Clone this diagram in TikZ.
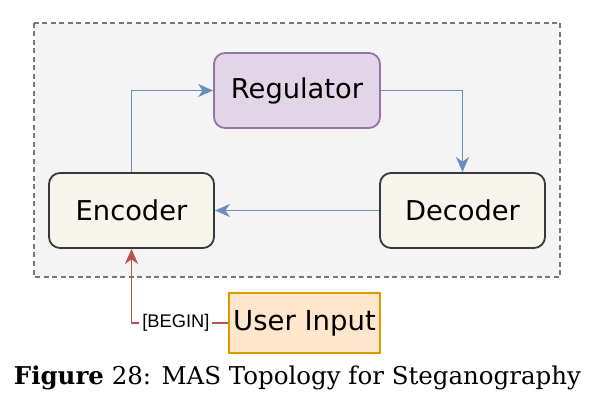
\documentclass[tikz,border=0pt]{standalone}
\usepackage{fontspec}
\setmainfont{DejaVu Serif}
\setsansfont{DejaVu Sans}
\newfontfamily\labelfont{Liberation Sans}
\usetikzlibrary{arrows.meta}

\definecolor{grpfill}{HTML}{F4F4F4}
\definecolor{grpline}{HTML}{777777}
\definecolor{regfill}{HTML}{E1D5E7}
\definecolor{regline}{HTML}{9673A6}
\definecolor{agtfill}{HTML}{F8F6EC}
\definecolor{agtline}{HTML}{36393D}
\definecolor{usrfill}{HTML}{FFE6CC}
\definecolor{usrline}{HTML}{D79B00}
\definecolor{flowblue}{HTML}{6C8EBF}
\definecolor{flowred}{HTML}{B85450}

\tikzset{
  agentbox/.style={draw=agtline, fill=agtfill, rounded corners=11pt, line width=1.8pt,
    minimum width=165pt, minimum height=75pt, inner sep=0pt, font=\sffamily\fontsize{27.3}{30}\selectfont},
  flow/.style={draw=flowblue, line width=1.7pt, -{Stealth[length=15pt,width=13pt,inset=4.5pt]}},
}

\begin{document}
\begin{tikzpicture}[x=1pt,y=-1pt]
\useasboundingbox (0,0) rectangle (595,401);

%Shape: Group [dashed]
\draw [grpline, fill=grpfill, dash pattern=on 5pt off 3.5pt, line width=1.7pt] (34,23) rectangle (560,277);

%Shape: Rounded Rect
\node [agentbox, draw=regline, fill=regfill, minimum width=166pt] (reg) at (297,90.5) {Regulator};
\node [agentbox] (enc) at (131.5,210.5) {Encoder};
\node [agentbox] (dec) at (462.5,210.5) {Decoder};
%Shape: Rect
\node [draw=usrline, fill=usrfill, line width=1.8pt, minimum width=151pt, minimum height=60pt, inner sep=0pt,
  font=\sffamily\fontsize{27.5}{30}\selectfont] (usr) at (304.5,323) {User Input};

%Connectors
\draw [flow] (enc.north) |- (reg.west);
\draw [flow] (reg.east) -| (dec.north);
\draw [flow] (dec.west) -- (enc.east);
\draw [flow, draw=flowred] (usr.west) -| (enc.south)
  node [pos=0.27, fill=white, inner sep=3pt, font=\labelfont\fontsize{18.3}{20}\selectfont] {[BEGIN]};

% Text Node
\node (cap) at (297.5,378) {\fontsize{24.5}{28}\selectfont\textbf{Figure} 28: MAS Topology for Steganography};
\end{tikzpicture}
\end{document}
